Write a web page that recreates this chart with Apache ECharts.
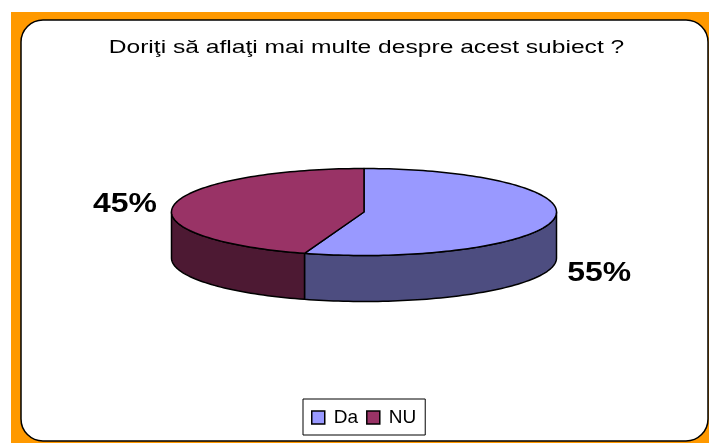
<!DOCTYPE html>
<html><head><meta charset="utf-8">
<style>html,body{margin:0;padding:0;background:#fff}#c{width:709px;height:443px}</style>
<script src="https://cdn.jsdelivr.net/npm/echarts@6/dist/echarts.min.js"></script>
</head><body><div id="c"></div>
<script>
const titleText = 'Doriţi să aflaţi mai multe despre acest subiect ?';
const categories = ['Da', 'NU'];
const values = [55, 45];
const topColors = ['#9999FF', '#993366'];
const sideColors = ['#4D4D80', '#4D1933'];

const cx = 364, cy = 212, rx = 192.5, ry = 43.5, depth = 46;
const labelShift = [[45, 54], [-49, -1]];
const total = values.reduce((a, b) => a + b, 0);
const FONT = '"Liberation Sans", Arial, sans-serif';
const pt = (deg, dy) => {
  const r = deg * Math.PI / 180;
  return [cx + rx * Math.sin(r), cy - ry * Math.cos(r) + (dy || 0)];
};
const arc = (a, b, dy) => {
  const n = Math.max(2, Math.ceil(Math.abs(b - a) / 1.5)), out = [];
  for (let i = 0; i <= n; i++) out.push(pt(a + (b - a) * i / n, dy));
  return out;
};
const edge = { stroke: '#000', lineWidth: 1.5, lineJoin: 'round' };

function sliceSeries(idx) {
  const start = values.slice(0, idx).reduce((a, b) => a + b, 0) / total * 360;
  return {
    type: 'custom', name: categories[idx], coordinateSystem: 'none',
    itemStyle: { color: topColors[idx], borderColor: '#000', borderWidth: 1.5 },
    data: [[values[idx]]],
    renderItem(params, api) {
      const v = api.value(0), end = start + v / total * 360, kids = [];
      const a = Math.max(start, 90), b = Math.min(end, 270);
      if (b > a) {
        kids.push({ type: 'polygon',
          shape: { points: arc(a, b, 0).concat(arc(b, a, depth)) },
          style: Object.assign({ fill: sideColors[idx] }, edge) });
      }
      kids.push({ type: 'polygon',
        shape: { points: [[cx, cy]].concat(arc(start, end, 0)) },
        style: Object.assign({ fill: topColors[idx] }, edge) });
      const m = pt((start + end) / 2, 0);
      kids.push({ type: 'text', x: m[0] + labelShift[idx][0], y: m[1] + labelShift[idx][1], scaleX: 1.14,
        style: { text: Math.round(v / total * 100) + '%', align: 'center', verticalAlign: 'middle',
          fill: '#000', font: 'bold 28px ' + FONT } });
      return { type: 'group', children: kids };
    }
  };
}

echarts.init(document.getElementById('c'), null, { renderer: 'canvas' }).setOption({
  animation: false,
  backgroundColor: '#fff',
  graphic: [
    { type: 'rect', z: -10, silent: true, shape: { x: 11, y: 12, width: 698, height: 431 }, style: { fill: '#FF9900' } },
    { type: 'rect', z: -9, silent: true, shape: { x: 21, y: 20, width: 687, height: 421, r: 22 }, style: { fill: '#fff', stroke: '#000', lineWidth: 1.5 } },
    { type: 'text', silent: true, x: 366.5, y: 48, scaleX: 1.295,
      style: { text: titleText, align: 'center', verticalAlign: 'middle', fill: '#000', font: '19px ' + FONT } }
  ],
  legend: { data: categories, left: 303, top: 399, orient: 'horizontal', icon: 'rect',
    itemWidth: 13, itemHeight: 13, itemGap: 8, padding: [9, 9, 8, 8], selectedMode: false,
    borderColor: '#000', borderWidth: 1, backgroundColor: '#fff',
    itemStyle: { borderColor: '#000', borderWidth: 1.5 },
    textStyle: { fontFamily: FONT, fontSize: 19, color: '#000', padding: [0, 2, 2, 4] } },
  series: categories.map((_, i) => sliceSeries(i))
});
</script></body></html>
